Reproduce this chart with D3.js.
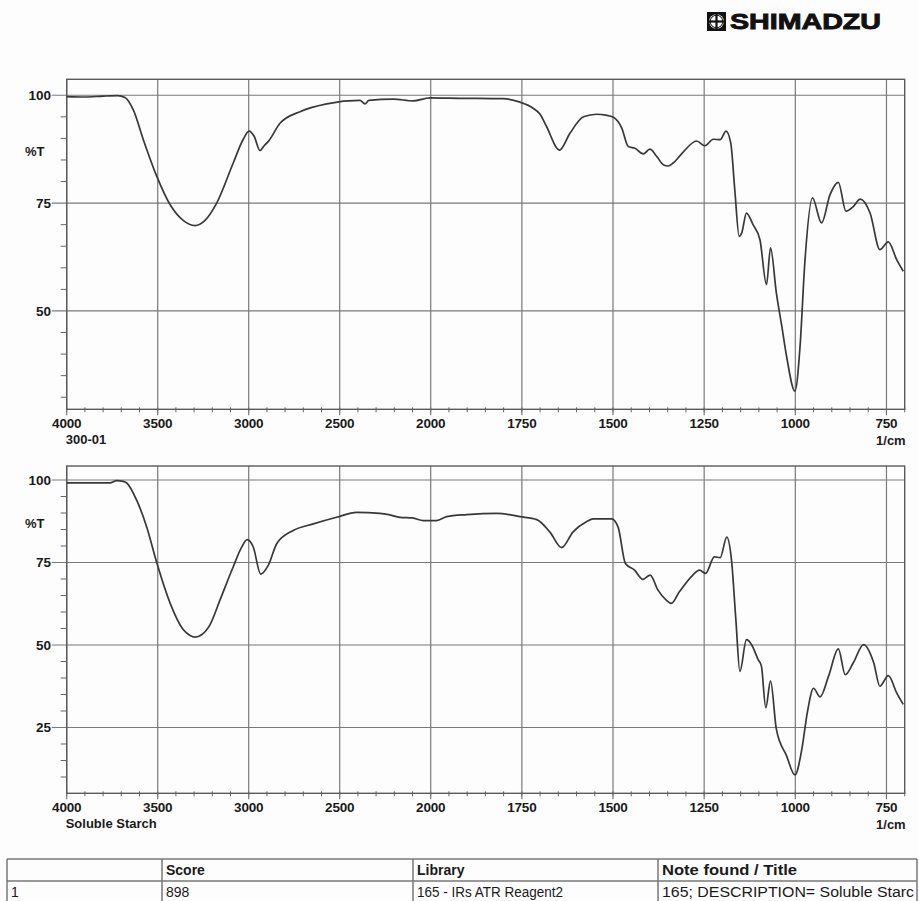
<!DOCTYPE html>
<html>
<head>
<meta charset="utf-8">
<script src="https://cdn.jsdelivr.net/npm/d3@7"></script>
<style>
  body { margin: 0; background: #fff; }
  svg { display: block; }
  text { font-family: "Liberation Sans", Arial, sans-serif; fill: #1a1a1a; }
</style>
</head>
<body>
<script>
// spectrum 1 : 300-01
var topWavenumber = [4000, 3900, 3800, 3720, 3680, 3634, 3579, 3505, 3430, 3360, 3295, 3240, 3176, 3085, 3030, 2998, 2970, 2938, 2915, 2892,
  2828, 2718, 2571, 2389, 2361, 2340, 2206, 2096, 2004, 1920, 1802, 1755, 1719, 1700, 1682, 1647, 1618, 1581, 1545, 1520,
  1499, 1476, 1458, 1440, 1417, 1399, 1380, 1362, 1349, 1335, 1307, 1271, 1248, 1225, 1206, 1190, 1177, 1166, 1154, 1147,
  1134, 1116, 1097, 1079, 1068, 1052, 1037, 1024, 1001, 987, 974, 953, 928, 905, 882, 861, 841, 822, 795, 768, 745, 722, 704];
var topTransmittance = [99.7, 99.6, 99.8, 99.9, 99.5, 96.6, 89.7, 81.2, 74.5, 71.0, 69.8, 71.0, 75.0, 84.3, 89.8, 91.7, 90.5, 87.2, 88.3, 89.3,
  93.5, 96.2, 98.0, 98.8, 98.0, 98.8, 99.1, 98.7, 99.4, 99.3, 99.2, 98.4, 97.0, 95.6, 92.7, 87.3, 91.2, 95.0, 95.6, 95.4,
  94.9, 92.4, 88.1, 87.7, 86.4, 87.5, 85.8, 83.9, 83.6, 84.3, 86.9, 89.4, 88.3, 89.8, 89.7, 91.7, 88.9, 78.1, 67.3, 68.1,
  72.7, 70.0, 66.5, 56.1, 64.6, 54.2, 46.4, 39.5, 31.4, 41.8, 61.1, 76.2, 70.4, 76.9, 79.8, 73.1, 74.2, 75.9, 72.7, 64.2, 66.0, 61.9, 59.2];

// spectrum 2 : Soluble Starch
var bottomWavenumber = [4000, 3900, 3800, 3762, 3725, 3690, 3670, 3615, 3560, 3505, 3432, 3359, 3322, 3295, 3268, 3213, 3158, 3085, 3040, 3008, 2975,
  2934, 2892, 2846, 2755, 2645, 2517, 2407, 2279, 2230, 2169, 2100, 2041, 1984, 1956, 1901, 1819, 1755, 1709, 1673, 1641,
  1610, 1572, 1555, 1504, 1486, 1466, 1441, 1418, 1398, 1377, 1354, 1340, 1318, 1281, 1263, 1246, 1222, 1206, 1188, 1175,
  1163, 1152, 1134, 1120, 1102, 1093, 1081, 1068, 1052, 1024, 1001, 982, 967, 950, 932, 909, 882, 863, 841, 813, 785, 768, 745, 722, 704];
var bottomTransmittance = [99.1, 99.1, 99.1, 99.1, 99.8, 99.6, 99.1, 93.8, 85.7, 74.9, 62.7, 54.6, 52.9, 52.4, 52.8, 56.1, 63.6, 73.7, 79.5, 81.9, 79.7,
  71.5, 74.2, 80.7, 84.7, 86.7, 88.7, 90.2, 89.9, 89.5, 88.7, 88.5, 87.7, 87.7, 88.9, 89.5, 89.9, 88.9, 88.0, 84.2, 79.5,
  84.2, 87.4, 88.2, 88.2, 85.7, 74.7, 72.7, 69.9, 71.2, 66.7, 63.6, 62.6, 66.1, 71.2, 72.7, 71.7, 76.7, 76.5, 82.7, 75.7,
  57.6, 42.0, 51.6, 50.1, 45.6, 43.6, 31.0, 39.1, 24.5, 16.4, 10.6, 18.5, 29.6, 36.9, 34.3, 40.5, 48.8, 41.0, 44.6, 50.1, 44.6, 37.5, 40.7, 35.5, 32.0];

var xTickLabels = [4000, 3500, 3000, 2500, 2000, 1750, 1500, 1250, 1000, 750];
var topYTicks = [100, 75, 50];
var bottomYTicks = [100, 75, 50, 25];

var tableHeader = ['', 'Score', 'Library', 'Note found / Title'];
var tableRow = ['1', '898', '165 - IRs ATR Reagent2', '165; DESCRIPTION= Soluble Starc'];

var width = 919, height = 901;
var svg = d3.select('body').append('svg')
            .attr('width', width)
            .attr('height', height);

svg.append('rect').attr('width', width).attr('height', height).attr('fill', '#fdfdfd');

// x is piecewise: 4000-2000 at half the scale of 2000-700
var xScale = d3.scaleLinear()
               .domain([4000, 2000, 700])
               .range([66.7, 430.7, 904.7]);

var xMinor = d3.range(4000, 2000, -100).concat(d3.range(2000, 699, -50));

var drawPanel = function(p){
  var yScale = d3.scaleLinear()
                 .domain(p.yDomain)
                 .range([p.bottom, p.top]);
  var g = svg.append('g').classed('panel', true);
  var left = xScale.range()[0], right = xScale.range()[2];

  // minor y ticks
  var yMinor = d3.range(5, 101, 5).filter(function(v){
    return v > p.yDomain[0] && p.yTicks.indexOf(v) < 0;
  });
  g.selectAll('.yminor').data(yMinor).enter().append('line')
   .attr('x1', left - 6).attr('x2', left)
   .attr('y1', function(d){ return yScale(d); })
   .attr('y2', function(d){ return yScale(d); })
   .attr('stroke', '#666').attr('stroke-width', 1);

  // x minor ticks
  g.selectAll('.xminor').data(xMinor).enter().append('line')
   .attr('x1', function(d){ return xScale(d); })
   .attr('x2', function(d){ return xScale(d); })
   .attr('y1', p.bottom - 2).attr('y2', p.bottom + 3)
   .attr('stroke', '#666').attr('stroke-width', 1);

  // horizontal grid
  g.selectAll('.ygrid').data(p.yTicks).enter().append('line')
   .attr('x1', left - 15).attr('x2', right)
   .attr('y1', function(d){ return yScale(d); })
   .attr('y2', function(d){ return yScale(d); })
   .attr('stroke', '#7a7a7a').attr('stroke-width', 1.2);

  // vertical grid
  g.selectAll('.xgrid').data(xTickLabels).enter().append('line')
   .attr('x1', function(d){ return xScale(d); })
   .attr('x2', function(d){ return xScale(d); })
   .attr('y1', p.top).attr('y2', p.bottom + 6)
   .attr('stroke', '#7a7a7a').attr('stroke-width', 1.2);

  // frame
  g.append('rect')
   .attr('x', left).attr('y', p.top)
   .attr('width', right - left).attr('height', p.bottom - p.top)
   .attr('fill', 'none').attr('stroke', '#5a5a5a').attr('stroke-width', 1.4);

  // spectrum
  var pts = p.wn.map(function(w, i){ return [w, p.tr[i]]; });
  var line = d3.line()
               .x(function(d){ return xScale(d[0]); })
               .y(function(d){ return yScale(d[1]); })
               .curve(d3.curveMonotoneX);
  g.append('path')
   .datum(pts)
   .attr('d', line)
   .attr('fill', 'none')
   .attr('stroke', '#383838')
   .attr('stroke-width', 1.7)
   .attr('stroke-linejoin', 'round');

  // labels
  g.selectAll('.ylab').data(p.yTicks).enter().append('text')
   .attr('x', 51)
   .attr('y', function(d){ return yScale(d) + 5; })
   .attr('text-anchor', 'end')
   .attr('font-size', '13.5px').attr('font-weight', 'bold')
   .text(function(d){ return d; });

  g.append('text')
   .attr('x', 25).attr('y', yScale(87) + 5)
   .attr('font-size', '13px').attr('font-weight', 'bold')
   .text('%T');

  g.selectAll('.xlab').data(xTickLabels).enter().append('text')
   .attr('x', function(d){ return xScale(d); })
   .attr('y', p.bottom + 18.5)
   .attr('text-anchor', 'middle')
   .attr('font-size', '13.5px').attr('font-weight', 'bold')
   .attr('letter-spacing', '-0.2px')
   .text(function(d){ return d; });

  g.append('text')
   .attr('x', left - 1).attr('y', p.bottom + 35)
   .attr('font-size', '13px').attr('font-weight', 'bold')
   .text(p.name);

  g.append('text')
   .attr('x', right + 1).attr('y', p.bottom + 35.5)
   .attr('text-anchor', 'end')
   .attr('font-size', '13px').attr('font-weight', 'bold')
   .text('1/cm');
};

drawPanel({ top: 79.3, bottom: 409.3, yDomain: [27.2, 103.7], yTicks: topYTicks,
            wn: topWavenumber, tr: topTransmittance, name: '300-01' });
drawPanel({ top: 466, bottom: 793.3, yDomain: [5.06, 104.24], yTicks: bottomYTicks,
            wn: bottomWavenumber, tr: bottomTransmittance, name: 'Soluble Starch' });

// logo
var logo = svg.append('g').attr('transform', 'translate(707,12)');
logo.append('rect').attr('width', 19).attr('height', 19).attr('fill', '#111');
logo.append('circle').attr('cx', 9.5).attr('cy', 9.5).attr('r', 7.3).attr('fill', '#fdfdfd');
logo.append('rect').attr('x', 2).attr('y', 8.4).attr('width', 15).attr('height', 2.2).attr('fill', '#111');
logo.append('rect').attr('x', 8.4).attr('y', 2).attr('width', 2.2).attr('height', 15).attr('fill', '#111');
logo.append('circle').attr('cx', 9.5).attr('cy', 9.5).attr('r', 6.3).attr('fill', 'none')
    .attr('stroke', '#111').attr('stroke-width', 1);
svg.append('text')
   .attr('x', 730).attr('y', 29.3)
   .attr('font-size', '22px').attr('font-weight', 'bold')
   .attr('textLength', 151).attr('lengthAdjust', 'spacingAndGlyphs')
   .attr('stroke', '#111').attr('stroke-width', 0.9)
   .style('fill', '#111')
   .text('SHIMADZU');

// result table
var colX = [7, 162, 413, 658, 917];
var rowY = [859, 881, 903];
var table = svg.append('g').classed('table', true);
rowY.forEach(function(y){
  table.append('line').attr('x1', colX[0]).attr('x2', colX[4]).attr('y1', y).attr('y2', y)
       .attr('stroke', '#777').attr('stroke-width', 1.5);
});
colX.forEach(function(x){
  table.append('line').attr('x1', x).attr('x2', x).attr('y1', rowY[0]).attr('y2', rowY[2])
       .attr('stroke', '#777').attr('stroke-width', 1.5);
});
var headWidths = [0, 42, 50, 135];
var rowWidths = [0, 27, 146, 252];
tableHeader.forEach(function(t, i){
  if (!t) return;
  var tx = table.append('text')
       .attr('x', colX[i] + 4).attr('y', rowY[0] + 16)
       .attr('font-size', '14px').attr('font-weight', 'bold')
       .text(t);
  if (i == 3) tx.attr('textLength', headWidths[i]).attr('lengthAdjust', 'spacingAndGlyphs');
});
tableRow.forEach(function(t, i){
  var tx = table.append('text')
       .attr('x', colX[i] + 4).attr('y', rowY[1] + 16)
       .attr('font-size', '14px')
       .text(t);
  if (i >= 2) tx.attr('textLength', rowWidths[i]).attr('lengthAdjust', 'spacingAndGlyphs');
});
</script>
</body>
</html>
